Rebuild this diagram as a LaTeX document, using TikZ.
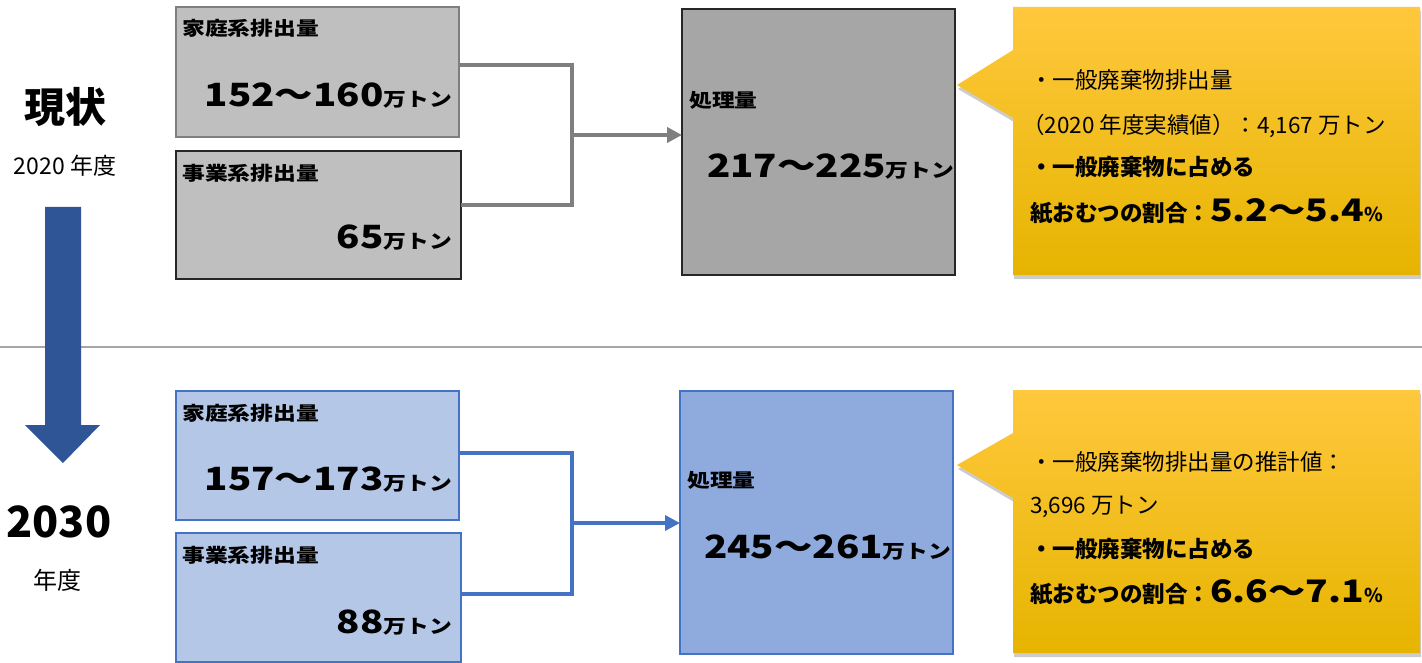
\documentclass[tikz,border=0pt]{standalone}
\usepackage{fontspec}
\setmainfont{Noto Sans CJK JP}
\newfontfamily\jpw{Noto Sans CJK JP}[FakeStretch=1.2]
\usetikzlibrary{arrows.meta,shadows}
\definecolor{gline}{HTML}{7F7F7F}
\definecolor{gfillA}{HTML}{BFBFBF}
\definecolor{gfillB}{HTML}{A6A6A6}
\definecolor{dkline}{HTML}{262626}
\definecolor{bline}{HTML}{4472C4}
\definecolor{bfillA}{HTML}{B4C7E7}
\definecolor{bfillB}{HTML}{8FAADC}
\definecolor{darrow}{HTML}{2F5597}
\definecolor{yTop}{HTML}{FFC83D}
\definecolor{yBot}{HTML}{E6B400}
\definecolor{sepc}{HTML}{A6A6A6}
\newcommand{\fs}[1]{\fontsize{#1}{#1}\selectfont}
\begin{document}
\begin{tikzpicture}[x=1pt,y=-1pt,
  box/.style={rectangle,inner sep=0pt,outer sep=0pt,anchor=north west,line width=1.5pt},
  gboxA/.style={box,fill=gfillA,draw=gline},
  gboxB/.style={box,fill=gfillA,draw=dkline},
  gproc/.style={box,fill=gfillB,draw=dkline},
  bbox/.style={box,fill=bfillA,draw=bline},
  bproc/.style={box,fill=bfillB,draw=bline},
  lbl/.style={inner sep=0pt,anchor=west,font=\jpw\fs{19}\bfseries},
  num/.style={inner sep=0pt,anchor=base east},
  pnum/.style={inner sep=0pt,anchor=base west},
  ctext/.style={inner sep=0pt,anchor=base west,font=\fs{22.5}},
  gconn/.style={draw=gline,line width=4pt},
  bconn/.style={draw=bline,line width=3.5pt},
  tip/.style={-{Triangle[length=15pt,width=15pt]}},
  callout/.style={top color=yTop,bottom color=yBot,draw=none,
     drop shadow={opacity=0.4,shadow xshift=1pt,shadow yshift=-4pt}},
]
\useasboundingbox (0,0) rectangle (1422,663);

% separator
\draw[sepc,line width=1.5pt] (0,347) -- (1422,347);

% big down arrow
\fill[darrow] (45,207) -- (81,207) -- (81,425) -- (100,425) -- (63,463) -- (25,425) -- (45,425) -- cycle;

% left labels
\node[font=\fs{41}\bfseries] (now) at (65,107) {現状};
\node[font=\fs{23}] (y2020) at (65,166) {2020 年度};
\node[font=\fs{43}\bfseries] (y2030) at (59,522) {2030};
\node[font=\fs{24}] (nendo) at (58,580) {年度};

% ---------- current ----------
\node[gboxA,minimum width=283pt,minimum height=130pt] (b1) at (176,7) {};
\node[gboxB,minimum width=285pt,minimum height=128pt] (b2) at (176,151) {};
\node[gproc,minimum width=273pt,minimum height=266pt] (p1) at (682,9) {};

\node[lbl] (b1l) at (182,28) {家庭系排出量};
\node[num] (b1n) at (452,107) {\jpw\bfseries\fs{32}152～160\fs{19}万トン};
\node[lbl] (b2l) at (182,173) {事業系排出量};
\node[num] (b2n) at (452,248) {\jpw\bfseries\fs{32}65\fs{19}万トン};
\node[lbl] (p1l) at (689,100) {処理量};
\node[pnum] (p1n) at (707,178) {\jpw\bfseries\fs{32}217～225\fs{19}万トン};

\coordinate (j1) at (572,135);
\draw[gconn] ([yshift=7pt]b1.east) -| (j1) |- ([yshift=10pt]b2.east);
\draw[gconn,tip] (j1) -- (j1 -| p1.west);

\path[callout] (1013,7) -- (1420,7) -- (1420,275) -- (1013,275) -- (1013,118) -- (957,85) -- (1013,50) -- cycle;
\node[ctext] (c1a) at (1030,89) {・一般廃棄物排出量};
\node[ctext] (c1b) at (1022,134) {（2020 年度実績値）：4,167 万トン};
\node[ctext,font=\fs{22.5}\bfseries] (c1c) at (1030,176) {・一般廃棄物に占める};
\node[ctext,font=\fs{22.5}\bfseries] (c1d) at (1030,222) {紙おむつの割合：{\jpw\fs{31}5.2～5.4}{\fs{19}\%}};

% ---------- 2030 ----------
\node[bbox,minimum width=283pt,minimum height=129pt] (b3) at (176,391) {};
\node[bbox,minimum width=285pt,minimum height=129pt] (b4) at (176,533) {};
\node[bproc,minimum width=273pt,minimum height=263pt] (p2) at (680,391) {};

\node[lbl] (b3l) at (182,413) {家庭系排出量};
\node[num] (b3n) at (452,490) {\jpw\bfseries\fs{32}157～173\fs{19}万トン};
\node[lbl] (b4l) at (182,555) {事業系排出量};
\node[num] (b4n) at (452,633) {\jpw\bfseries\fs{32}88\fs{19}万トン};
\node[lbl] (p2l) at (687,480) {処理量};
\node[pnum] (p2n) at (704,558) {\jpw\bfseries\fs{32}245～261\fs{19}万トン};

\coordinate (j2) at (572,523);
\draw[bconn] ([yshift=2.5pt]b3.east) -| (j2) |- ([yshift=3.5pt]b4.east);
\draw[bconn,tip] (j2) -- (j2 -| p2.west);

\path[callout] (1013,390) -- (1420,390) -- (1420,653) -- (1013,653) -- (1013,498) -- (957,465) -- (1013,433) -- cycle;
\node[ctext] (c2a) at (1030,470) {・一般廃棄物排出量の推計値：};
\node[ctext] (c2b) at (1030,513) {3,696 万トン};
\node[ctext,font=\fs{22.5}\bfseries] (c2c) at (1030,557) {・一般廃棄物に占める};
\node[ctext,font=\fs{22.5}\bfseries] (c2d) at (1030,602) {紙おむつの割合：{\jpw\fs{31}6.6～7.1}{\fs{19}\%}};
\end{tikzpicture}
\end{document}
